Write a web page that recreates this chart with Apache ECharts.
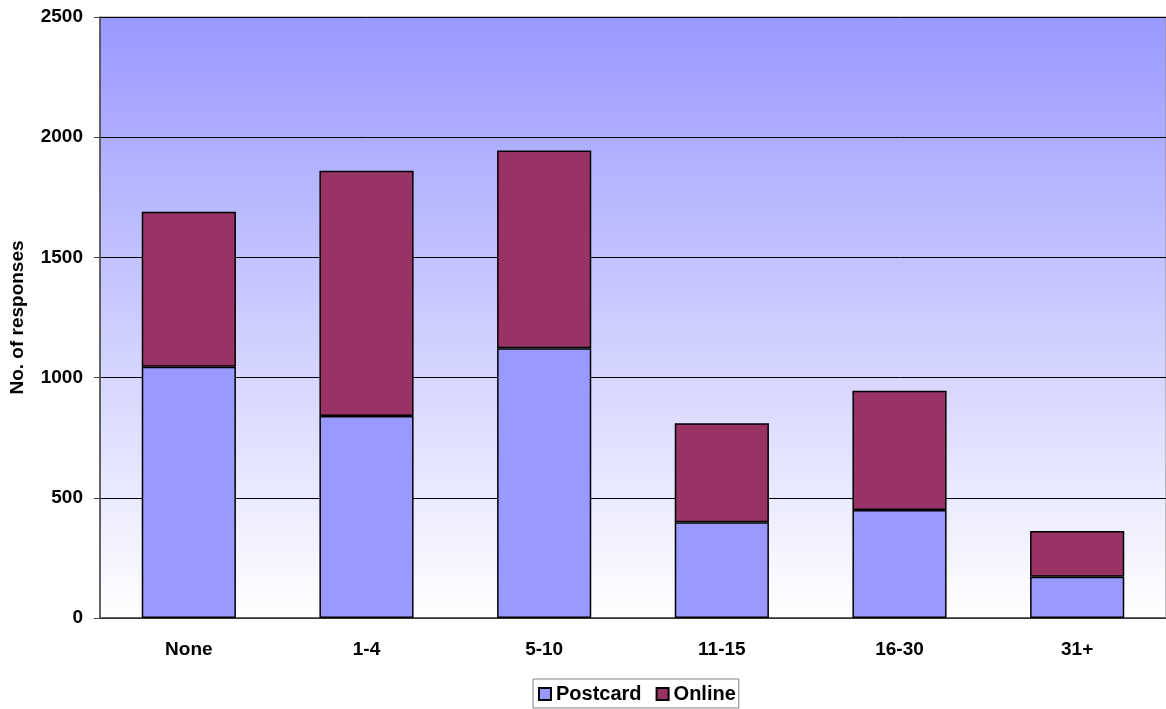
<!DOCTYPE html>
<html>
<head>
<meta charset="utf-8">
<script src="https://cdn.jsdelivr.net/npm/echarts@6/dist/echarts.min.js"></script>
<style>
  html, body { margin: 0; padding: 0; background: #fff; }
  #chart { width: 1166px; height: 709px; }
</style>
</head>
<body>
<div id="chart"></div>
<script>
// Responses by number of visits, split by how they were submitted
var categories = ['None', '1-4', '5-10', '11-15', '16-30', '31+'];
var postcard = [1045, 840, 1122, 398, 449, 172];
var online = [645, 1020, 823, 412, 496, 190];
var yTicks = { min: 0, max: 2500, interval: 500 };

var font = '"Liberation Sans", Arial, sans-serif';
var chart = echarts.init(document.getElementById('chart'));

chart.setOption({
  animation: false,
  textStyle: { fontFamily: font },
  grid: {
    left: 100, right: 0, top: 17, bottom: 91,
    show: true,
    borderColor: '#8a8a8a',
    borderWidth: 1,
    backgroundColor: {
      type: 'linear', x: 0, y: 0, x2: 0, y2: 1,
      colorStops: [
        { offset: 0, color: '#9999ff' },
        { offset: 1, color: '#ffffff' }
      ]
    }
  },
  legend: {
    data: ['Postcard', 'Online'],
    bottom: 1,
    left: 533,
    itemWidth: 12,
    itemHeight: 12,
    itemGap: 14,
    padding: [5, 3, 4, 5],
    borderColor: '#808080',
    borderWidth: 1,
    icon: 'rect',
    textStyle: { fontFamily: font, fontWeight: 'bold', fontSize: 20, color: '#000' }
  },
  xAxis: {
    type: 'category',
    data: categories,
    axisLine: { lineStyle: { color: '#444', width: 1.5 } },
    axisTick: { show: false },
    axisLabel: { fontFamily: font, fontWeight: 'bold', fontSize: 19, color: '#000', margin: 22 }
  },
  yAxis: {
    type: 'value',
    min: yTicks.min, max: yTicks.max, interval: yTicks.interval,
    name: 'No. of responses',
    nameLocation: 'middle',
    nameGap: 73,
    nameTextStyle: { fontFamily: font, fontWeight: 'bold', fontSize: 19, color: '#000' },
    axisLine: { show: true, lineStyle: { color: '#444', width: 1.5 } },
    axisTick: { show: true, length: 6, lineStyle: { color: '#444' } },
    axisLabel: {
      fontFamily: font, fontWeight: 'bold', fontSize: 19, color: '#000', margin: 17,
      formatter: function (v) { return String(v); }
    },
    splitLine: { show: true, lineStyle: { color: '#000', width: 1 } }
  },
  series: [
    {
      name: 'Postcard',
      type: 'bar',
      stack: 'total',
      barWidth: '53%',
      data: postcard,
      itemStyle: { color: '#9999ff', borderColor: '#000', borderWidth: 1.5 }
    },
    {
      name: 'Online',
      type: 'bar',
      stack: 'total',
      data: online,
      itemStyle: { color: '#993366', borderColor: '#000', borderWidth: 1.5 }
    }
  ]
});
</script>
</body>
</html>
